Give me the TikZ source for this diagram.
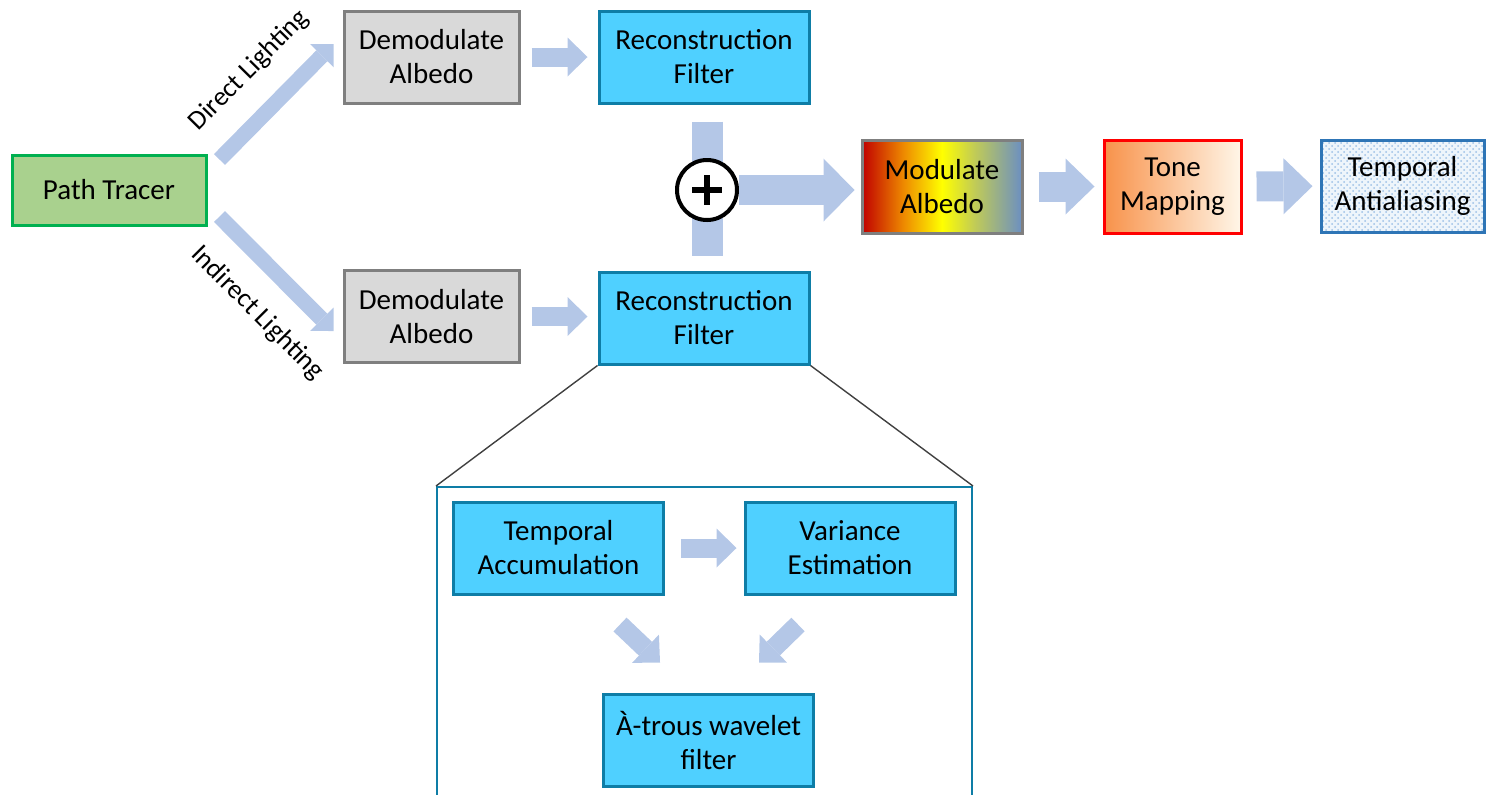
\documentclass[tikz,border=0pt]{standalone}
\usepackage{fontspec}
\setmainfont{Carlito}
\usetikzlibrary{arrows.meta,calc,patterns}
\definecolor{arrowblue}{HTML}{B4C7E7}
\definecolor{cyanfill}{HTML}{4FD0FF}
\definecolor{cyanline}{HTML}{0E7DA6}
\definecolor{grayfill}{HTML}{D9D9D9}
\definecolor{grayline}{HTML}{7F7F7F}
\definecolor{greenfill}{HTML}{A9D18E}
\definecolor{greenline}{HTML}{00B050}
\definecolor{modred}{HTML}{C00000}
\definecolor{modorange}{HTML}{EE8A00}
\definecolor{modolive}{HTML}{C2CC55}
\definecolor{modblue}{HTML}{6B8FC2}
\definecolor{toneorange}{HTML}{F8924A}
\definecolor{tonecream}{HTML}{FFF6E8}
\definecolor{taablue}{HTML}{2E75B6}
\definecolor{taafill}{HTML}{EEF5FB}
\definecolor{taadot}{HTML}{9DC0E6}
\definecolor{zoomgray}{HTML}{404040}
\pgfdeclarehorizontalshading{modshade}{100bp}{color(0bp)=(modred); color(25bp)=(modred); color(38bp)=(modorange); color(50bp)=(yellow); color(60bp)=(modolive); color(75bp)=(modblue); color(100bp)=(modblue)}

\begin{document}
\begin{tikzpicture}[
	x=0.5pt, y=-0.5pt,
	font=\fontsize{14.5}{17}\selectfont,
	box/.style={ rectangle, draw, line width=1.5pt, inner sep=0pt, align=center, minimum width=105pt, minimum height=46pt },
	greybox/.style={ box, draw=grayline, fill=grayfill, minimum width=87.5pt },
	cyanbox/.style={ box, draw=cyanline, fill=cyanfill },
	zoombox/.style={ rectangle, draw=cyanline, line width=1pt, inner sep=0pt, minimum width=267.5pt, minimum height=157pt },
	zoomline/.style={ draw=zoomgray, line width=0.7pt },
	thinblk/.style={ draw=arrowblue, line width=7.75pt, -{Triangle[width=16.5pt,length=8.25pt,line width=0pt]} },
	smallblk/.style={ draw=arrowblue, line width=9.5pt, -{Triangle[width=19.5pt,length=10pt,line width=0pt]} },
	midblk/.style={ draw=arrowblue, line width=15pt, -{Triangle[width=28pt,length=14.5pt,line width=0pt]} },
	bigblk/.style={ draw=arrowblue, line width=15pt, -{Triangle[width=31.5pt,length=15.5pt,line width=0pt]} },
	bar/.style={ draw=arrowblue, line width=15.5pt },
	plusnode/.style={ circle, draw=black, line width=2pt, fill=white, inner sep=0pt, minimum size=30pt },
	plussign/.style={ draw=black, line width=2.8pt },
	lbl/.style={ font=\fontsize{13.5}{15}\selectfont, inner sep=0pt }
]
	\useasboundingbox (0,0) rectangle (1487,794);

	% main pipeline
	\node[box, draw=greenline, fill=greenfill, minimum width=97pt, minimum height=35pt] (pt) at (109,190) {Path Tracer};
	\node[greybox] (dt) at (431.5,57) {Demodulate\\Albedo};
	\node[greybox] (db) at (431.5,316.5) {Demodulate\\Albedo};
	\node[cyanbox] (rt) at (704,57) {Reconstruction\\Filter};
	\node[cyanbox] (rb) at (704,318) {Reconstruction\\Filter};
	\node[box, draw=grayline, shading=modshade, minimum width=80pt, minimum height=46.5pt] (mod) at (942,186.5) {Modulate\\Albedo};
	\node[box, draw=red, left color=toneorange, right color=tonecream, minimum width=68.5pt, minimum height=46.5pt] (tone) at (1172.5,186.5) {Tone\\Mapping};
	\node[box, draw=taablue, preaction={fill=taafill}, pattern=crosshatch dots, pattern color=taadot, minimum width=81.5pt] (taa) at (1402.5,186) {Temporal\\Antialiasing};

	\draw[thinblk] ($(pt.north east)+(12,6)$) -- node[sloped, above=11pt, pos=0.52, lbl] {Direct Lighting} ($(dt.west)+(-9,-13)$);
	\draw[thinblk] ($(pt.south east)+(12,-10)$) -- node[sloped, below=11pt, pos=0.59, lbl] {Indirect Lighting} ($(db.west)+(-9,14.5)$);
	\draw[smallblk, shorten <=5.5pt, shorten >=5pt] (dt) -- (rt);
	\draw[smallblk, shorten <=5.5pt, shorten >=5pt] (db.east) -- (db.east -| rb.west);

	% sum of both filters
	\coordinate (pc) at (707,190);
	\draw[bar, shorten <=8.5pt, shorten >=7.5pt] (pc |- rt.south) -- (pc |- rb.north);
	\node[plusnode] (plus) at (pc) {};
	\draw[plussign] ($(plus)+(-15,0)$) -- ($(plus)+(15,0)$);
	\draw[plussign] ($(plus)+(0,-15)$) -- ($(plus)+(0,15)$);
	\draw[bigblk, shorten >=3pt] (plus.east) -- (plus.east -| mod.west);
	\draw[midblk, shorten <=7.5pt, shorten >=4pt] (mod) -- (tone);
	\draw[midblk, shorten <=7pt, shorten >=3.5pt] (tone) -- (taa);

	% close-up of the filter
	\node[zoombox] (zoom) at (704.5,644) {};
	\draw[zoomline] (rb.south west) -- (zoom.north west);
	\draw[zoomline] (rb.south east) -- (zoom.north east);
	\node[cyanbox] (ta) at (558.5,548) {Temporal\\Accumulation};
	\node[cyanbox] (ve) at (850,548) {Variance\\Estimation};
	\node[cyanbox] (at) at (708.5,740) {À-trous wavelet\\filter};
	\draw[smallblk, shorten <=8pt, shorten >=3.5pt] (ta) -- (ve);
	\draw[smallblk] ($(ta.south east)+(-45,29)$) -- ($(at.north west)+(58,-30)$);
	\draw[smallblk] ($(ve.south west)+(54.5,29)$) -- ($(at.north east)+(-56,-30)$);
\end{tikzpicture}
\end{document}
